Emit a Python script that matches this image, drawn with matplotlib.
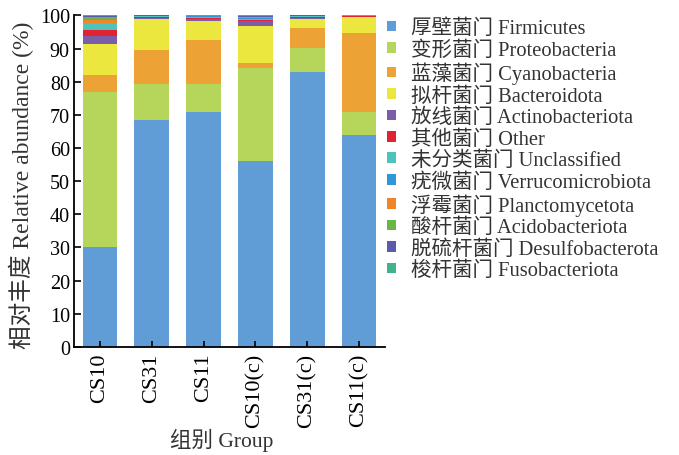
import numpy as np
import matplotlib
matplotlib.use('Agg')
import matplotlib.pyplot as plt
from matplotlib.patches import Patch

plt.rcParams['font.family'] = ['Liberation Serif', 'Noto Sans CJK SC']

groups = ['CS10', 'CS31', 'CS11', 'CS10(c)', 'CS31(c)', 'CS11(c)']

phyla = ['厚壁菌门 Firmicutes', '变形菌门 Proteobacteria', '蓝藻菌门 Cyanobacteria',
         '拟杆菌门 Bacteroidota', '放线菌门 Actinobacteriota', '其他菌门 Other',
         '未分类菌门 Unclassified', '疣微菌门 Verrucomicrobiota', '浮霉菌门 Planctomycetota',
         '酸杆菌门 Acidobacteriota', '脱硫杆菌门 Desulfobacterota', '梭杆菌门 Fusobacteriota']

colors = ['#609cd6', '#b6d55b', '#eda236', '#ebe73f', '#7a5ea9', '#e0232f',
          '#4ec3bc', '#2f97d7', '#f08429', '#6ab545', '#5a5ca9', '#3fb48a']

# relative abundance (%) per phylum, one value per group
firmicutes     = [30.1, 68.6, 71.0, 56.2, 82.8, 64.0]
proteobacteria = [46.9, 10.7,  8.3, 27.8,  7.5,  7.0]
cyanobacteria  = [ 5.0, 10.2, 13.4,  1.7,  5.9, 23.7]
bacteroidota   = [ 9.3,  9.3,  5.7, 11.1,  2.6,  4.7]
actino         = [ 2.4,  0.3,  0.4,  1.4,  0.5,  0.2]
other          = [ 2.0,  0.3,  0.3,  0.4,  0.3,  0.1]
unclassified   = [ 1.9,  0.3,  0.5,  0.3,  0.1,  0.1]
verruco        = [ 0.2,  0.1,  0.1,  0.3,  0.1,  0.1]
plancto        = [ 0.8,  0.1,  0.1,  0.3,  0.1,  0.05]
acido          = [ 0.8,  0.05, 0.1,  0.1,  0.05, 0.05]
desulfo        = [ 0.3,  0.05, 0.05, 0.3,  0.05, 0.05]
fuso           = [ 0.3,  0.1,  0.05, 0.1,  0.05, 0.05]

values = [firmicutes, proteobacteria, cyanobacteria, bacteroidota, actino, other,
          unclassified, verruco, plancto, acido, desulfo, fuso]

fig = plt.figure(figsize=(6.79, 4.56), dpi=100)
ax = fig.add_axes([0.109, 0.237, 0.458, 0.727])

x = np.arange(len(groups))
bottom = np.zeros(len(groups))
for name, vals, c in zip(phyla, values, colors):
    ax.bar(x, vals, 0.67, bottom=bottom, color=c, label=name, linewidth=0)
    bottom += np.array(vals)

ax.set_xlim(-0.5, 5.5)
ax.set_ylim(0, 100)
ax.set_yticks(range(0, 101, 10))
ax.set_xticks(x)
ax.set_xticklabels(groups, rotation=90, fontsize=16)
ax.tick_params(axis='y', labelsize=14.5, direction='in', length=5, width=1.2, pad=3)
ax.tick_params(axis='x', direction='in', length=4, width=1.2, pad=4)
ax.spines['top'].set_visible(False)
ax.spines['right'].set_visible(False)
ax.spines['left'].set_linewidth(1.3)
ax.spines['bottom'].set_linewidth(1.3)

ax.set_ylabel('相对丰度 Relative abundance (%)', fontsize=17, color='#333333')
ax.set_xlabel('组别 Group', fontsize=15.5, color='#333333')
ax.yaxis.set_label_coords(-0.13, 0.49)
ax.xaxis.set_label_coords(0.476, -0.245)

handles = [Patch(facecolor=c, edgecolor='none') for c in colors]
fig.legend(handles, phyla, loc='upper left', bbox_to_anchor=(0.558, 0.975),
           frameon=False, fontsize=14.8, handlelength=0.42, handleheight=0.42,
           handletextpad=0.75, labelspacing=0.1, borderaxespad=0, labelcolor='#333333')

plt.savefig('out.png', dpi=100)
